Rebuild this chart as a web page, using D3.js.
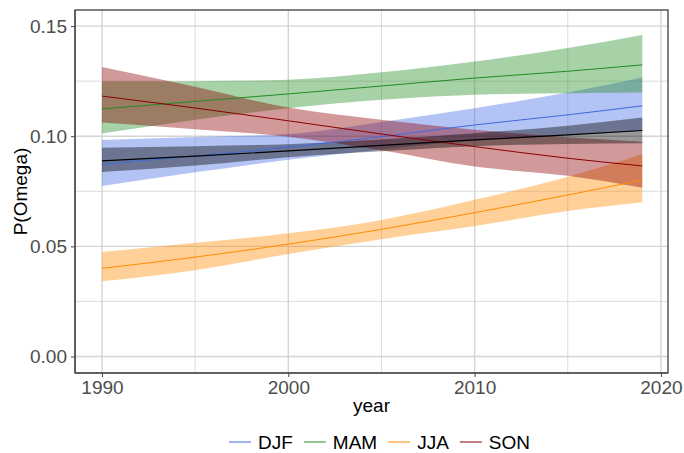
<!DOCTYPE html>
<html><head><meta charset="utf-8">
<script src="https://cdn.jsdelivr.net/npm/d3@7"></script>
<style>body{margin:0;background:#fff}svg{display:block;font-family:"Liberation Sans",Arial,sans-serif}</style>
</head><body><svg id="c" width="684" height="453"></svg>
<script>
const years = [1990, 1995, 2000, 2005, 2010, 2015, 2019];
const seasons = ["DJF", "MAM", "JJA", "SON"];
const colors = ["#4169e1", "#228b22", "#ff8c00", "#8b0000"];

const djfMean  = [0.0873, 0.0910, 0.0950, 0.0998, 0.1051, 0.1097, 0.1138];
const djfUpper = [0.0983, 0.0996, 0.1010, 0.1065, 0.1127, 0.1198, 0.1266];
const djfLower = [0.0774, 0.0836, 0.0893, 0.0940, 0.0980, 0.1005, 0.1025];

const mamMean  = [0.1124, 0.1158, 0.1192, 0.1228, 0.1264, 0.1295, 0.1324];
const mamUpper = [0.1248, 0.1250, 0.1256, 0.1290, 0.1339, 0.1400, 0.1460];
const mamLower = [0.1012, 0.1075, 0.1127, 0.1165, 0.1188, 0.1195, 0.1198];

const jjaMean  = [0.0400, 0.0451, 0.0510, 0.0577, 0.0653, 0.0733, 0.0801];
const jjaUpper = [0.0474, 0.0516, 0.0559, 0.0620, 0.0711, 0.0816, 0.0918];
const jjaLower = [0.0341, 0.0392, 0.0465, 0.0532, 0.0592, 0.0660, 0.0700];

const sonMean  = [0.1182, 0.1128, 0.1070, 0.1010, 0.0953, 0.0900, 0.0865];
const sonUpper = [0.1314, 0.1225, 0.1130, 0.1075, 0.1029, 0.0995, 0.0975];
const sonLower = [0.1062, 0.1032, 0.0998, 0.0936, 0.0862, 0.0820, 0.0766];

const allMean  = [0.0888, 0.0910, 0.0933, 0.0958, 0.0983, 0.1006, 0.1026];
const allUpper = [0.0948, 0.0955, 0.0964, 0.0985, 0.1014, 0.1048, 0.1085];
const allLower = [0.0838, 0.0867, 0.0905, 0.0932, 0.0955, 0.0965, 0.0968];

const xTicks = [1990, 2000, 2010, 2020];
const xMinor = [1995, 2005, 2015];
const yTicks = [0, 0.05, 0.10, 0.15];
const yMinor = [0.025, 0.075, 0.125];

const svg = d3.select("#c");
const L = 75, R = 668, T = 10, B = 373;
const x = d3.scaleLinear().domain([1988.55, 2020.38]).range([L, R]);
const y = d3.scaleLinear().domain([-0.0075, 0.1573]).range([B, T]);

// grid
const g = svg.append("g");
g.selectAll(".hmin").data(yMinor).join("line").attr("x1", L).attr("x2", R)
  .attr("y1", d => y(d)).attr("y2", d => y(d)).attr("stroke", "#dcdcdc").attr("stroke-width", 1);
g.selectAll(".vmin").data(xMinor).join("line").attr("y1", T).attr("y2", B)
  .attr("x1", d => x(d)).attr("x2", d => x(d)).attr("stroke", "#dcdcdc").attr("stroke-width", 1);
g.selectAll(".hmaj").data(yTicks).join("line").attr("x1", L).attr("x2", R)
  .attr("y1", d => y(d)).attr("y2", d => y(d)).attr("stroke", "#d4d4d4").attr("stroke-width", 1.4);
g.selectAll(".vmaj").data(xTicks).join("line").attr("y1", T).attr("y2", B)
  .attr("x1", d => x(d)).attr("x2", d => x(d)).attr("stroke", "#d4d4d4").attr("stroke-width", 1.4);

const series = [
  {mean: djfMean, up: djfUpper, lo: djfLower, col: colors[0]},
  {mean: mamMean, up: mamUpper, lo: mamLower, col: colors[1]},
  {mean: jjaMean, up: jjaUpper, lo: jjaLower, col: colors[2]},
  {mean: sonMean, up: sonUpper, lo: sonLower, col: colors[3]},
  {mean: allMean, up: allUpper, lo: allLower, col: "#000000"}
];
const curve = d3.curveMonotoneX;
const area = d3.area().x(d => x(d.yr)).y0(d => y(d.lo)).y1(d => y(d.up)).curve(curve);
const line = d3.line().x(d => x(d.yr)).y(d => y(d.m)).curve(curve);

series.forEach(s => {
  s.rows = years.map((yr, i) => ({yr, m: s.mean[i], up: s.up[i], lo: s.lo[i]}));
  svg.append("path").attr("d", area(s.rows)).attr("fill", s.col).attr("fill-opacity", 0.4);
});
series.forEach(s => {
  svg.append("path").attr("d", line(s.rows)).attr("fill", "none").attr("stroke", s.col)
    .attr("stroke-width", s.col === "#000000" ? 1.2 : 1);
});

// border
svg.append("rect").attr("x", L).attr("y", T).attr("width", R - L).attr("height", B - T)
  .attr("fill", "none").attr("stroke", "#1a1a1a").attr("stroke-width", 1.1);
svg.append("line").attr("x1", L).attr("x2", L).attr("y1", T).attr("y2", B).attr("stroke", "#444").attr("stroke-width", 1.1);
svg.append("line").attr("x1", L).attr("x2", R).attr("y1", B).attr("y2", B).attr("stroke", "#444").attr("stroke-width", 1.1);

// axes
const xa = svg.append("g").attr("transform", `translate(0,${B})`)
  .call(d3.axisBottom(x).tickValues(xTicks).tickFormat(d3.format("d")).tickSize(4).tickPadding(4));
const ya = svg.append("g").attr("transform", `translate(${L},0)`)
  .call(d3.axisLeft(y).tickValues(yTicks).tickFormat(d3.format(".2f")).tickSize(4).tickPadding(4));
[xa, ya].forEach(a => {
  a.select(".domain").remove();
  a.selectAll(".tick line").attr("stroke", "#444");
  a.selectAll("text").attr("fill", "#4d4d4d").style("font-size", "19px")
    .style("font-family", "'Liberation Sans', Arial, sans-serif");
});

svg.append("text").attr("x", (L + R) / 2).attr("y", 412).attr("text-anchor", "middle")
  .style("font-size", "19px").attr("fill", "#000").text("year");
svg.append("text").attr("transform", `translate(27,${(T + B) / 2}) rotate(-90)`).attr("text-anchor", "middle")
  .style("font-size", "19px").attr("fill", "#000").text("P(Omega)");

// legend
let lx = 229;
const ly = 442;
seasons.forEach((s, i) => {
  svg.append("line").attr("x1", lx).attr("x2", lx + 22).attr("y1", ly).attr("y2", ly)
    .attr("stroke", colors[i]).attr("stroke-width", 1);
  const t = svg.append("text").attr("x", lx + 29).attr("y", 449).style("font-size", "19px")
    .attr("fill", "#000").text(s);
  lx += 29 + t.node().getComputedTextLength() + 11;
});
</script></body></html>
